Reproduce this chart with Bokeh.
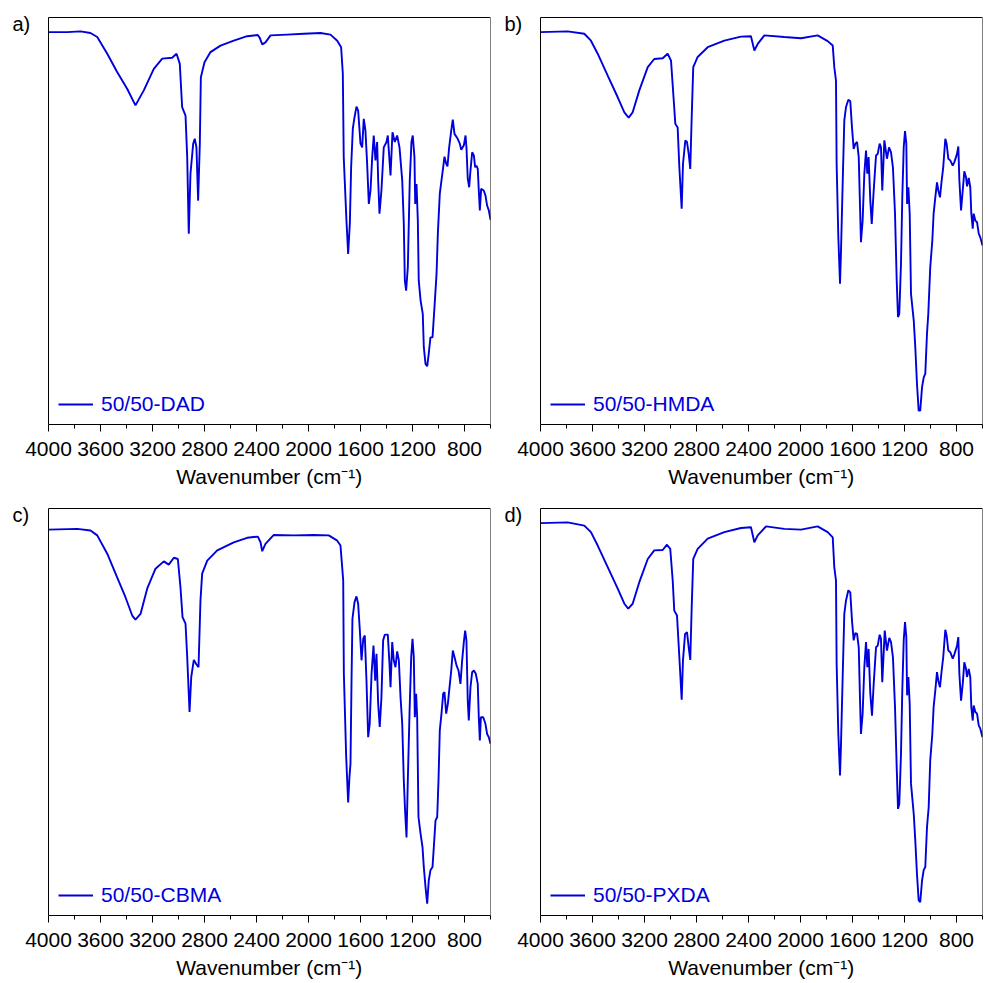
from bokeh.plotting import figure
from bokeh.layouts import column, row
from bokeh.models import Range1d, FixedTicker, Label, Legend, LegendItem, BoxAnnotation
from bokeh.embed import file_html
from bokeh.resources import INLINE

# ---------------- data (wavenumber in cm-1, transmittance in arbitrary %) -------------
wn_dad = [4000, 3856, 3754, 3677, 3625, 3548, 3472, 3395, 3331, 3267,
          3190, 3125, 3049, 3015, 2990, 2972, 2946, 2933, 2921, 2908,
          2887, 2875, 2862, 2849, 2836, 2828, 2800, 2754, 2677, 2575,
          2472, 2390, 2375, 2356, 2331, 2292, 2164, 2036, 1908, 1831,
          1779, 1749, 1736, 1729, 1708, 1695, 1682, 1672, 1659, 1646,
          1631, 1618, 1600, 1587, 1575, 1562, 1549, 1536, 1523, 1510,
          1498, 1485, 1472, 1464, 1454, 1439, 1421, 1400, 1390, 1377,
          1369, 1354, 1336, 1318, 1300, 1279, 1267, 1259, 1249, 1236,
          1221, 1208, 1198, 1185, 1179, 1169, 1159, 1152, 1138, 1121,
          1113, 1100, 1087, 1075, 1062, 1046, 1031, 1015, 1005, 990,
          977, 964, 954, 941, 931, 918, 902, 890, 877, 856,
          836, 825, 805, 792, 785, 775, 764, 754, 741, 728,
          718, 708, 698, 690, 682, 672, 652, 639, 626, 613, 600]
t_dad = [96.4, 96.4, 96.6, 96.2, 95.2, 91.1, 86.6, 82.5, 78.4, 82.1,
         87.4, 89.9, 90.1, 91.1, 88.6, 78.0, 75.9, 65.7, 46.9, 61.6,
         69.0, 70.2, 68.1, 55.0, 69.0, 85.3, 89.0, 91.5, 93.1, 94.3,
         95.4, 95.7, 95.0, 93.4, 93.9, 95.6, 95.8, 96.0, 96.2, 95.8,
         94.3, 92.7, 86.2, 65.7, 50.1, 41.9, 49.4, 63.2, 72.7, 75.5,
         78.1, 77.1, 69.0, 68.1, 75.1, 72.2, 64.1, 54.2, 57.5, 65.7,
         71.0, 64.9, 69.4, 60.0, 51.8, 57.5, 68.1, 69.4, 71.0, 64.9,
         61.2, 71.8, 69.4, 71.0, 68.1, 60.0, 49.3, 35.4, 32.9, 38.6,
         60.0, 69.4, 71.0, 65.7, 54.2, 59.1, 50.1, 35.4, 30.5, 27.2,
         19.0, 14.9, 14.3, 17.4, 21.4, 21.4, 28.8, 37.0, 46.9, 56.7,
         60.0, 63.2, 65.8, 64.1, 63.4, 68.1, 72.2, 74.9, 71.4, 70.4,
         69.0, 67.5, 68.6, 71.0, 68.1, 60.4, 58.3, 62.4, 66.9, 66.1,
         63.2, 63.6, 62.8, 57.5, 52.6, 57.9, 57.5, 56.3, 53.8, 52.6, 50.3]

wn_hmda = [4000, 3791, 3663, 3612, 3560, 3483, 3406, 3355, 3322, 3291,
           3240, 3175, 3125, 3060, 3022, 2996, 2975, 2963, 2945, 2932,
           2914, 2904, 2886, 2873, 2860, 2848, 2837, 2825, 2791, 2714,
           2586, 2458, 2381, 2355, 2329, 2278, 2125, 1996, 1868, 1791,
           1752, 1740, 1727, 1722, 1709, 1696, 1689, 1675, 1663, 1650,
           1632, 1617, 1604, 1591, 1578, 1565, 1552, 1542, 1535, 1522,
           1509, 1496, 1486, 1476, 1463, 1452, 1437, 1419, 1406, 1391,
           1381, 1371, 1355, 1335, 1319, 1304, 1289, 1273, 1260, 1250,
           1240, 1227, 1217, 1206, 1196, 1186, 1180, 1170, 1160, 1150,
           1129, 1117, 1104, 1091, 1079, 1065, 1052, 1040, 1027, 1017,
           1002, 986, 976, 963, 950, 940, 927, 914, 902, 886,
           876, 863, 848, 829, 817, 796, 786, 778, 765, 752,
           740, 727, 719, 706, 694, 686, 675, 668, 655, 642, 629, 617, 600]
t_hmda = [96.4, 96.6, 96.0, 94.3, 91.1, 85.7, 80.4, 76.7, 75.4, 76.7,
          82.1, 87.8, 89.8, 90.0, 91.1, 89.4, 79.6, 73.9, 73.0, 63.2,
          53.0, 64.0, 69.8, 69.4, 66.5, 62.8, 75.5, 87.8, 90.3, 92.7,
          94.3, 95.3, 95.4, 91.9, 93.5, 95.6, 95.2, 94.9, 95.6, 94.2,
          93.1, 87.8, 84.5, 64.0, 46.0, 34.6, 41.9, 60.0, 74.7, 78.0,
          79.8, 79.4, 73.0, 67.7, 69.0, 69.4, 65.7, 53.4, 44.8, 50.1,
          61.6, 67.3, 61.6, 65.7, 55.0, 49.3, 57.5, 66.1, 66.5, 69.0,
          68.1, 57.5, 69.8, 65.3, 68.1, 66.9, 63.2, 51.8, 35.4, 26.4,
          27.2, 39.5, 55.8, 68.1, 72.1, 69.0, 54.2, 58.3, 51.8, 32.1,
          25.6, 19.0, 10.0, 3.4, 3.4, 9.2, 11.6, 12.5, 22.3, 27.2,
          38.6, 45.2, 51.8, 55.8, 59.5, 57.5, 55.8, 60.0, 63.2, 70.2,
          69.0, 65.3, 64.9, 63.6, 64.4, 66.5, 68.3, 60.0, 52.6, 57.5,
          62.2, 60.8, 58.5, 60.6, 58.3, 51.8, 48.1, 51.8, 50.1, 49.7, 46.9, 46.0, 44.0]

wn_cbma = [4000, 3779, 3677, 3625, 3548, 3472, 3408, 3356, 3331, 3292,
           3241, 3177, 3113, 3075, 3036, 3005, 2985, 2969, 2946, 2933,
           2915, 2902, 2882, 2864, 2846, 2831, 2818, 2779, 2702, 2575,
           2472, 2390, 2369, 2356, 2331, 2267, 2113, 1959, 1844, 1779,
           1754, 1741, 1733, 1728, 1710, 1695, 1685, 1677, 1669, 1662,
           1646, 1631, 1618, 1605, 1592, 1579, 1567, 1554, 1541, 1529,
           1515, 1500, 1487, 1477, 1464, 1452, 1439, 1426, 1413, 1390,
           1377, 1369, 1356, 1344, 1331, 1318, 1305, 1292, 1279, 1267,
           1256, 1246, 1236, 1223, 1210, 1200, 1190, 1182, 1172, 1164,
           1154, 1138, 1123, 1113, 1100, 1087, 1075, 1062, 1046, 1036,
           1023, 1010, 1000, 990, 977, 964, 954, 941, 928, 915,
           902, 890, 877, 861, 846, 831, 818, 805, 795, 785,
           775, 767, 754, 741, 728, 713, 698, 690, 682, 674, 656, 639, 626, 613, 600]
t_cbma = [94.8, 95.0, 94.6, 93.4, 88.9, 83.1, 78.2, 73.7, 72.7, 74.1,
          80.3, 85.2, 87.0, 86.2, 87.9, 87.6, 80.7, 73.3, 71.7, 63.5,
          50.0, 58.6, 62.8, 61.8, 61.0, 77.4, 84.0, 87.2, 89.7, 91.7,
          92.8, 93.1, 91.7, 89.5, 91.3, 93.5, 93.4, 93.5, 93.4, 92.1,
          90.9, 85.6, 82.3, 59.4, 38.9, 27.8, 34.0, 37.3, 57.7, 72.9,
          77.0, 78.4, 76.6, 70.0, 62.7, 68.0, 68.8, 57.7, 43.8, 47.1,
          59.4, 66.3, 57.7, 64.3, 52.0, 46.3, 53.6, 67.6, 69.0, 69.0,
          61.8, 56.1, 67.2, 62.7, 61.0, 64.9, 62.7, 53.6, 47.1, 33.2,
          25.0, 19.2, 33.2, 49.6, 63.5, 68.0, 63.5, 48.7, 54.5, 48.7,
          24.2, 20.1, 16.8, 11.9, 7.0, 2.9, 8.6, 11.1, 11.9, 16.8,
          23.3, 24.2, 33.2, 45.5, 49.6, 54.5, 54.9, 49.6, 52.0, 56.1,
          60.2, 65.1, 63.5, 61.4, 60.2, 56.9, 62.7, 67.2, 70.0, 67.6,
          52.8, 47.9, 56.1, 59.8, 60.2, 59.4, 56.9, 48.7, 43.0, 48.7, 48.7, 47.1, 44.6, 43.8, 42.2]

wn_pxda = [4000, 3791, 3663, 3612, 3560, 3483, 3406, 3355, 3325, 3291,
           3240, 3175, 3125, 3060, 3027, 3002, 2983, 2971, 2950, 2932,
           2914, 2904, 2888, 2873, 2860, 2848, 2837, 2825, 2791, 2714,
           2586, 2458, 2381, 2355, 2329, 2265, 2125, 1996, 1868, 1791,
           1752, 1740, 1727, 1722, 1709, 1696, 1689, 1675, 1663, 1650,
           1632, 1617, 1604, 1591, 1578, 1565, 1552, 1542, 1535, 1522,
           1509, 1496, 1486, 1476, 1463, 1450, 1437, 1419, 1406, 1391,
           1381, 1371, 1352, 1335, 1317, 1304, 1289, 1273, 1260, 1250,
           1240, 1227, 1217, 1206, 1196, 1186, 1180, 1170, 1160, 1150,
           1129, 1117, 1104, 1091, 1079, 1065, 1052, 1040, 1027, 1014,
           1002, 986, 976, 963, 950, 940, 927, 914, 902, 886,
           876, 863, 848, 829, 817, 796, 786, 778, 765, 752,
           740, 727, 719, 706, 694, 686, 675, 668, 655, 642, 629, 617, 600]
t_pxda = [96.4, 96.6, 95.8, 94.2, 90.9, 85.6, 80.3, 76.6, 75.4, 76.6,
          81.9, 87.6, 89.7, 89.8, 91.1, 90.1, 82.3, 74.9, 73.7, 63.5,
          53.0, 62.7, 69.2, 69.6, 65.9, 62.8, 75.7, 87.6, 90.1, 92.6,
          94.2, 95.2, 95.4, 91.7, 93.4, 95.6, 95.0, 94.8, 95.6, 94.2,
          92.9, 85.6, 82.3, 61.8, 44.6, 34.4, 41.4, 59.4, 74.1, 77.4,
          79.9, 79.4, 72.5, 67.6, 69.4, 69.2, 65.9, 52.8, 44.6, 49.6,
          61.0, 67.2, 61.0, 65.5, 54.5, 49.1, 56.9, 65.9, 66.3, 69.0,
          68.0, 57.3, 70.0, 65.1, 68.2, 67.2, 63.5, 51.2, 36.4, 26.2,
          27.4, 39.7, 55.3, 67.6, 72.1, 68.4, 54.1, 58.6, 52.0, 32.4,
          25.0, 18.4, 10.2, 3.7, 3.3, 8.6, 11.2, 11.9, 21.7, 26.6,
          38.1, 44.6, 51.2, 55.3, 59.8, 57.7, 56.1, 60.2, 63.5, 70.2,
          68.8, 65.1, 64.7, 63.1, 64.1, 66.3, 68.4, 59.4, 52.8, 56.9,
          62.2, 60.6, 58.6, 60.6, 58.6, 51.2, 47.9, 51.6, 50.0, 49.6, 46.7, 45.9, 43.8]

series_names = ["50/50-DAD", "50/50-HMDA", "50/50-CBMA", "50/50-PXDA"]
panel_tags = ["a)", "b)", "c)", "d)"]
major_ticks = [4000, 3600, 3200, 2800, 2400, 2000, 1600, 1200, 800]
minor_ticks = [3800, 3400, 3000, 2600, 2200, 1800, 1400, 1000, 600]
x_start, x_end = 4000, 600   # spectral window shown inside the box
y_start, y_end = 0, 100

# ---------------- layout / styling -------------
BLUE = "#0000dc"
FONT = "Liberation Sans"
BOX_W, BOX_H = 442, 407          # size of the drawn box in px
PAD_LEFT, PAD_TOP = 38, 12       # extra drawing room left/above the box for the panel tag
# ranges widened so that the box spans exactly [x_start, x_end] x [y_start, y_end]
x_lo = x_start + PAD_LEFT * (x_start - x_end) / BOX_W
y_hi = y_end + PAD_TOP * (y_end - y_start) / BOX_H


def make_panel(wn, t, name, tag, width, height, b_right, b_bottom):
    assert len(wn) == len(t)
    p = figure(width=width, height=height, output_backend="svg", toolbar_location=None,
               x_range=Range1d(x_lo, x_end), y_range=Range1d(y_start, y_hi),
               y_axis_location=None,
               min_border_left=10, min_border_right=b_right,
               min_border_top=5, min_border_bottom=b_bottom)
    p.grid.visible = False
    p.outline_line_color = None
    p.background_fill_color = "white"
    p.border_fill_color = "white"

    # the plot box
    p.add_layout(BoxAnnotation(left=x_start, right=x_end, bottom=y_start, top=y_end,
                               fill_alpha=0, line_color="black", line_alpha=1.0,
                               line_width=1))

    ax = p.xaxis[0]
    ax.bounds = (x_end, x_start)
    ax.ticker = FixedTicker(ticks=major_ticks, minor_ticks=minor_ticks)
    ax.axis_line_color = "black"
    ax.major_tick_line_color = "black"
    ax.minor_tick_line_color = "black"
    ax.major_tick_in = 0
    ax.major_tick_out = 7
    ax.minor_tick_in = 0
    ax.minor_tick_out = 4
    ax.major_label_text_font = FONT
    ax.major_label_text_font_size = "21px"
    ax.major_label_text_color = "black"
    ax.major_label_standoff = 10
    # leading spaces re-centre the title under the box (the frame is wider than the box)
    ax.axis_label = "\u2002\u2002\u2002\u00a0Wavenumber (cm\u207b\u00b9)"
    ax.axis_label_text_font = FONT
    ax.axis_label_text_font_size = "21px"
    ax.axis_label_text_font_style = "normal"
    ax.axis_label_text_color = "black"
    ax.axis_label_standoff = 6

    r = p.line(wn, t, line_color=BLUE, line_width=1.9)

    legend = Legend(items=[LegendItem(label=name, renderers=[r])],
                    location=(PAD_LEFT + 5, 3), margin=0, padding=5, spacing=0,
                    glyph_width=35, glyph_height=20, label_standoff=8,
                    label_text_font=FONT, label_text_font_size="21px",
                    label_text_color=BLUE, border_line_alpha=0,
                    background_fill_alpha=0)
    p.add_layout(legend)

    p.add_layout(Label(x=2, y=401, x_units="screen", y_units="screen", text=tag,
                       text_font=FONT, text_font_size="20px", text_color="black",
                       text_align="left", text_baseline="alphabetic"))
    return p


pa = make_panel(wn_dad, t_dad, series_names[0], panel_tags[0], 492, 491, 2, 67)
pb = make_panel(wn_hmda, t_hmda, series_names[1], panel_tags[1], 493, 491, 3, 67)
pc = make_panel(wn_cbma, t_cbma, series_names[2], panel_tags[2], 492, 492, 2, 68)
pd = make_panel(wn_pxda, t_pxda, series_names[3], panel_tags[3], 493, 492, 3, 68)

layout = column(row(pa, pb), row(pc, pd))

with open("out.html", "w") as f:
    f.write(file_html(layout, INLINE))
